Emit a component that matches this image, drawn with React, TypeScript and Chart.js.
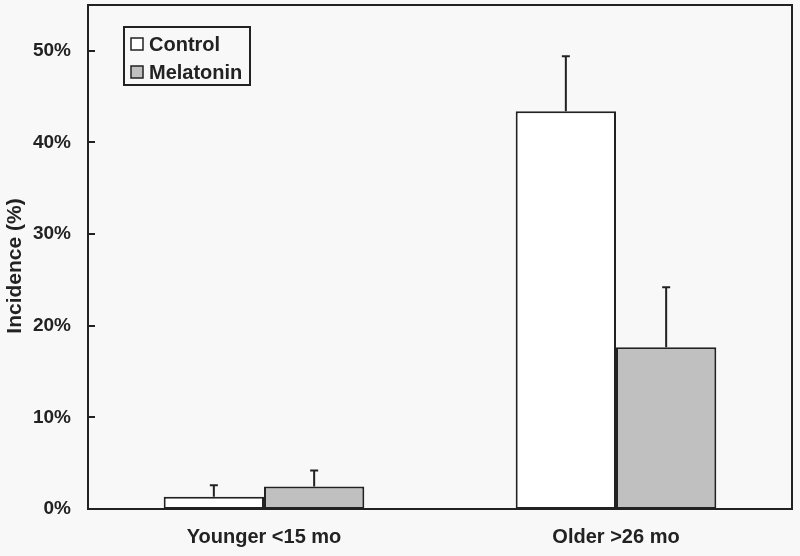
import React, { useEffect, useRef } from "react";
import { Chart, registerables } from "chart.js";

Chart.register(...registerables);

const categories = ["Younger <15 mo", "Older >26 mo"];
const seriesNames = ["Control", "Melatonin"];
const controlValues = [1.35, 43.4];
const controlErrors = [1.25, 6.0];
const melatoninValues = [2.45, 17.65];
const melatoninErrors = [1.75, 6.55];
const yTicks = [0, 10, 20, 30, 40, 50];
const yTitle = "Incidence (%)";

const BG = "#f8f8f8";
const INK = "#222222";
const FONT = "'Liberation Sans', Arial, sans-serif";

const decorPlugin = {
  id: "decor",
  beforeDraw(chart: any) {
    const ctx = chart.ctx;
    ctx.save();
    ctx.fillStyle = BG;
    ctx.fillRect(0, 0, chart.width, chart.height);
    ctx.restore();
  },
  afterDatasetsDraw(chart: any) {
    const ctx = chart.ctx;
    const { left, right, top, bottom } = chart.chartArea;
    const yScale = chart.scales.y;
    ctx.save();
    ctx.strokeStyle = INK;
    ctx.lineWidth = 2;
    // frame
    ctx.strokeRect(left, top, right - left, bottom - top);
    // inward ticks
    yTicks.forEach((v) => {
      const y = Math.round(yScale.getPixelForValue(v));
      ctx.beginPath();
      ctx.moveTo(left, y);
      ctx.lineTo(left + 7, y);
      ctx.stroke();
    });
    // error bars
    chart.data.datasets.forEach((ds: any, i: number) => {
      const meta = chart.getDatasetMeta(i);
      const errs = ds.errors as number[];
      meta.data.forEach((bar: any, j: number) => {
        const x = bar.x;
        const yTop = bar.y;
        const yErr = yScale.getPixelForValue(ds.data[j] + errs[j]);
        ctx.beginPath();
        ctx.moveTo(x, yTop);
        ctx.lineTo(x, yErr);
        ctx.moveTo(x - 4, yErr);
        ctx.lineTo(x + 4, yErr);
        ctx.stroke();
      });
    });
    // legend
    const lx = 124, ly = 27, lw = 126, lh = 58;
    ctx.strokeRect(lx, ly, lw, lh);
    ctx.font = `bold 20px ${FONT}`;
    ctx.textBaseline = "middle";
    ctx.textAlign = "left";
    chart.data.datasets.forEach((ds: any, i: number) => {
      const cy = 44 + i * 28;
      ctx.fillStyle = ds.backgroundColor;
      ctx.fillRect(131, cy - 6, 12, 12);
      ctx.lineWidth = 1.5;
      ctx.strokeRect(131, cy - 6, 12, 12);
      ctx.fillStyle = INK;
      ctx.fillText(ds.label, 149, cy + 1);
    });
    // y axis title
    ctx.translate(15, 266);
    ctx.rotate(-Math.PI / 2);
    ctx.font = `bold 21px ${FONT}`;
    ctx.textAlign = "center";
    ctx.textBaseline = "middle";
    ctx.fillStyle = INK;
    ctx.fillText(yTitle, 0, 0);
    ctx.restore();
  },
};

export default function App() {
  const ref = useRef<HTMLCanvasElement>(null);
  useEffect(() => {
    if (!ref.current) return;
    const chart = new Chart(ref.current, {
      type: "bar",
      data: {
        labels: categories,
        datasets: [
          {
            label: seriesNames[0],
            data: controlValues,
            errors: controlErrors,
            backgroundColor: "#ffffff",
            borderColor: INK,
            borderWidth: 2,
            borderSkipped: false,
          } as any,
          {
            label: seriesNames[1],
            data: melatoninValues,
            errors: melatoninErrors,
            backgroundColor: "#c0c0c0",
            borderColor: INK,
            borderWidth: 2,
            borderSkipped: false,
          } as any,
        ],
      },
      options: {
        responsive: false,
        animation: false,
        layout: { padding: { left: 0, top: 5, right: 8, bottom: 0 } },
        plugins: { legend: { display: false }, tooltip: { enabled: false } },
        datasets: { bar: { categoryPercentage: 0.57, barPercentage: 1 } },
        scales: {
          x: {
            grid: { display: false, drawTicks: false },
            border: { display: false },
            ticks: {
              color: INK,
              padding: 16,
              font: { family: FONT, size: 20, weight: "bold" },
            },
            afterFit(scale: any) {
              scale.height = 47;
              scale.paddingLeft = 0;
              scale.paddingRight = 0;
            },
          },
          y: {
            min: 0,
            max: 55,
            grid: { display: false, drawTicks: false },
            border: { display: false },
            afterBuildTicks(scale: any) {
              scale.ticks = yTicks.map((v) => ({ value: v }));
            },
            ticks: {
              color: INK,
              padding: 17,
              font: { family: FONT, size: 19, weight: "bold" },
              callback: (v: any) => `${v}%`,
            },
            title: { display: false },
            afterFit(scale: any) {
              scale.width = 88;
              scale.paddingTop = 0;
              scale.paddingBottom = 0;
            },
          },
        },
      },
      plugins: [decorPlugin],
    });
    return () => chart.destroy();
  }, []);
  return (
    <div style={{ position: "absolute", left: 0, top: 0, width: 800, height: 556, background: BG }}>
      <canvas ref={ref} width={800} height={556} style={{ display: "block" }} />
    </div>
  );
}
